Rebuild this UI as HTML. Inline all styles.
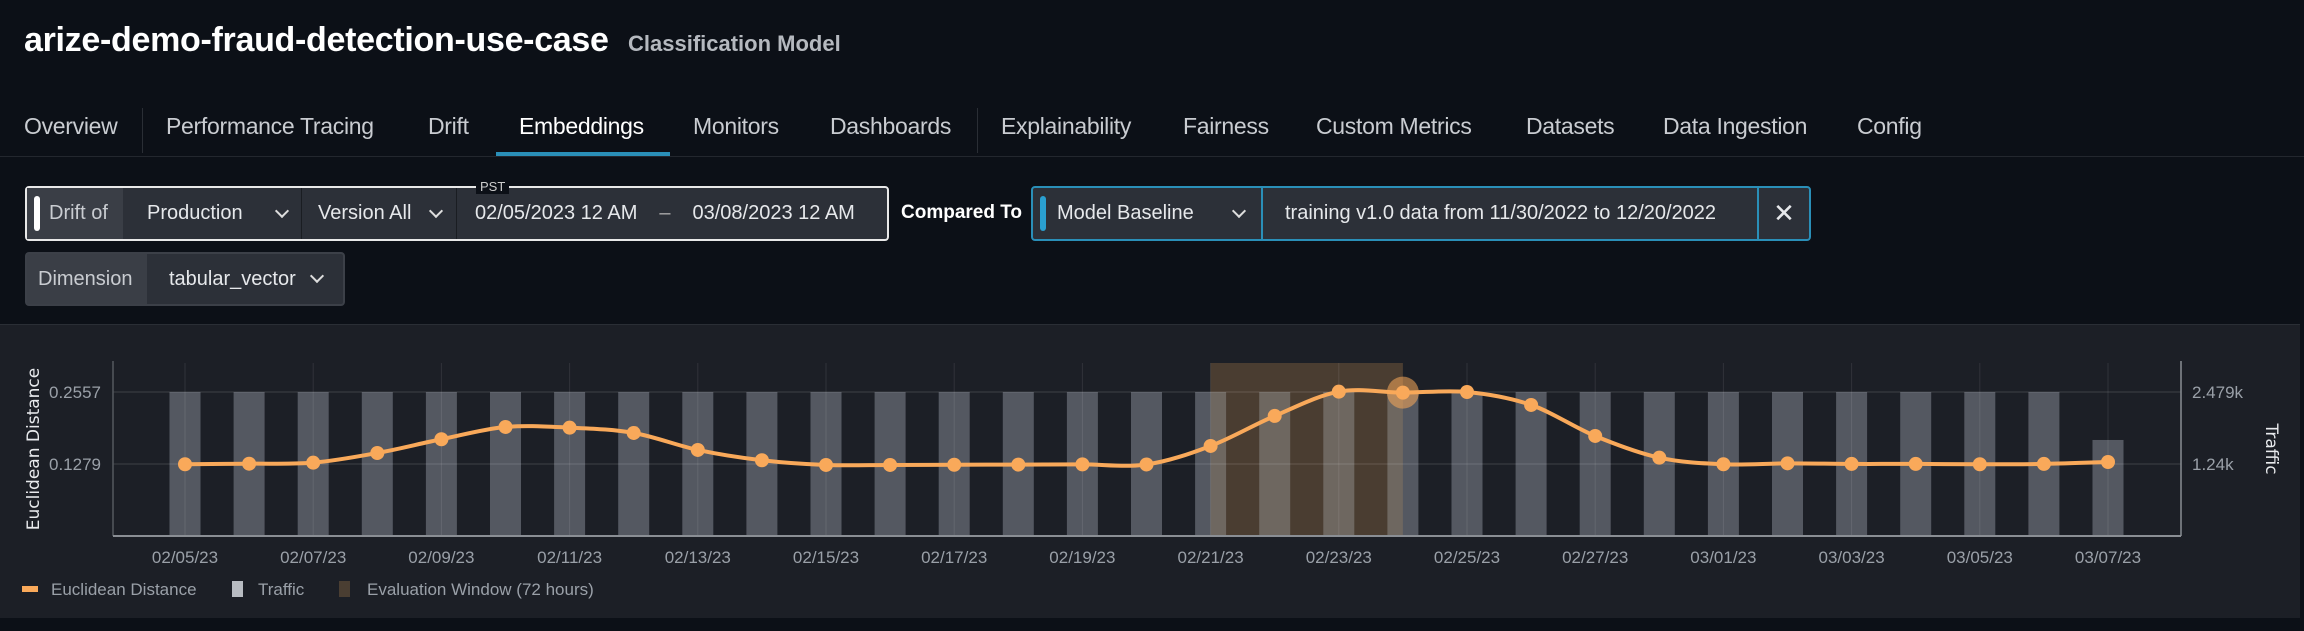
<!DOCTYPE html>
<html><head><meta charset="utf-8">
<style>
*{box-sizing:border-box;margin:0;padding:0}
body{width:2304px;height:631px;background:#0c1017;font-family:"Liberation Sans",sans-serif;color:#e8eaed;position:relative;overflow:hidden}
.a{position:absolute;white-space:nowrap}
.tab{position:absolute;top:113px;font-size:23px;color:#c9ccd1;letter-spacing:-0.3px}
.box{position:absolute;background:#2c3038;border-radius:4px}
.seg{position:absolute;top:0;height:100%;display:flex;align-items:center;font-size:20px;color:#e6e8eb}
.chev{display:inline-block;width:10px;height:10px;border-right:2px solid #ddd;border-bottom:2px solid #ddd;transform:rotate(45deg);margin-top:-6px}
</style></head><body>
<div class="a" style="left:24px;top:21px;font-size:34px;font-weight:bold;color:#fff;letter-spacing:-0.3px">arize-demo-fraud-detection-use-case</div>
<div class="a" style="left:628px;top:31px;font-size:22px;font-weight:bold;color:#b5b9bf">Classification Model</div>

<div class="tab" style="left:24px">Overview</div>
<div class="a" style="left:142px;top:108px;width:1px;height:45px;background:#2a2e35"></div>
<div class="tab" style="left:166px">Performance Tracing</div>
<div class="tab" style="left:428px">Drift</div>
<div class="tab" style="left:519px;color:#fff">Embeddings</div>
<div class="a" style="left:496px;top:152px;width:174px;height:4px;background:#2a8fb8"></div>
<div class="tab" style="left:693px">Monitors</div>
<div class="tab" style="left:830px">Dashboards</div>
<div class="a" style="left:977px;top:108px;width:1px;height:45px;background:#2a2e35"></div>
<div class="tab" style="left:1001px">Explainability</div>
<div class="tab" style="left:1183px">Fairness</div>
<div class="tab" style="left:1316px">Custom Metrics</div>
<div class="tab" style="left:1526px">Datasets</div>
<div class="tab" style="left:1663px">Data Ingestion</div>
<div class="tab" style="left:1857px">Config</div>
<div class="a" style="left:0;top:156px;width:2304px;height:1px;background:#23272e"></div>

<div class="box" style="left:25px;top:186px;width:864px;height:55px;border:2px solid #e8e8e8;background:#2c3038">
 <div class="seg" style="left:0;width:96px;background:#3a3e46;padding-left:22px;color:#c9ccd1">Drift of</div>
 <div class="a" style="left:7px;top:8px;width:6px;height:35px;background:#fff;border-radius:3px"></div>
 <div class="seg" style="left:96px;width:178px;padding-left:24px;gap:34px">Production<span class="chev"></span></div>
 <div class="a" style="left:274px;top:0;width:1px;height:51px;background:#1a1d22"></div>
 <div class="seg" style="left:275px;width:154px;padding-left:16px;gap:20px">Version All<span class="chev"></span></div>
 <div class="a" style="left:429px;top:0;width:1px;height:51px;background:#1a1d22"></div>
 <div class="seg" style="left:430px;width:430px;padding-left:18px;gap:22px">02/05/2023 12 AM<span style="color:#aaa">–</span>03/08/2023 12 AM</div>
 <div class="a" style="left:449px;top:-9px;font-size:13px;color:#ccc;background:#0c1017;padding:0 4px">PST</div>
</div>
<div class="a" style="left:901px;top:202px;font-size:19px;font-weight:bold;color:#fff">Compared To</div>
<div class="box" style="left:1031px;top:186px;width:780px;height:55px;border:2px solid #2a8fb8">
 <div class="a" style="left:7px;top:8px;width:6px;height:35px;background:#2a9fd0;border-radius:3px"></div>
 <div class="seg" style="left:0;width:228px;padding-left:24px;gap:40px">Model Baseline<span class="chev"></span></div>
 <div class="a" style="left:228px;top:0;width:2px;height:51px;background:#2a8fb8"></div>
 <div class="seg" style="left:230px;width:495px;padding-left:22px">training v1.0 data from 11/30/2022 to 12/20/2022</div>
 <div class="a" style="left:724px;top:0;width:2px;height:51px;background:#2a8fb8"></div>
 <div class="seg" style="left:726px;width:50px;justify-content:center;font-size:26px">✕</div>
</div>
<div class="box" style="left:25px;top:252px;width:320px;height:54px;border:2px solid #3c4048">
 <div class="seg" style="left:0;width:120px;background:#3a3e46;padding-left:11px;color:#c9ccd1">Dimension</div>
 <div class="seg" style="left:120px;width:196px;padding-left:22px;gap:16px">tabular_vector<span class="chev"></span></div>
</div>

<div class="a" style="left:0;top:324px;width:2300px;height:294px;background:#1c1f26;border-top:1px solid #2a2e35">
<svg id="chart" width="2300" height="294" style="position:absolute;left:0;top:0"></svg>
</div>

<script>
const dates=["02/05/23","02/06/23","02/07/23","02/08/23","02/09/23","02/10/23","02/11/23","02/12/23","02/13/23","02/14/23","02/15/23","02/16/23","02/17/23","02/18/23","02/19/23","02/20/23","02/21/23","02/22/23","02/23/23","02/24/23","02/25/23","02/26/23","02/27/23","02/28/23","03/01/23","03/02/23","03/03/23","03/04/23","03/05/23","03/06/23","03/07/23"];
const distance=[0.1274,0.1284,0.1302,0.1474,0.1718,0.1936,0.1924,0.1830,0.1528,0.1345,0.1261,0.1261,0.1265,0.1268,0.1272,0.1270,0.1599,0.2132,0.2563,0.2546,0.2557,0.2327,0.1776,0.1391,0.1274,0.1290,0.1280,0.1280,0.1274,0.1280,0.1314];
const traffic=[2479,2479,2479,2479,2479,2479,2479,2479,2479,2479,2479,2479,2479,2479,2479,2479,2479,2479,2479,2479,2479,2479,2479,2479,2479,2479,2479,2479,2479,2479,1653];
const leftTicks=[0.1279,0.2557];
const leftTickLabels=["0.1279","0.2557"];
const rightTicks=[1240,2479];
const rightTickLabels=["1.24k","2.479k"];
const evalWindow=[16,19];
const highlightIndex=19;

const NS="http://www.w3.org/2000/svg";
const svg=document.getElementById('chart');
const OY=324;
const L=113,R=2181,T=362-OY,B=535-OY;
const x0=185,dx=64.1;
const xs=i=>x0+i*dx;
const yL=v=>B-v/0.2557*(B-(391-OY));
const yR=v=>B-v/2479*(B-(391-OY));
function el(tag,attrs,name,inter){const e=document.createElementNS(NS,tag);for(const k in attrs)e.setAttribute(k,attrs[k]);


svg.appendChild(e);return e;}
const wx=xs(evalWindow[0]),ww=xs(evalWindow[1])-xs(evalWindow[0]);
el('rect',{x:wx,y:T,width:ww,height:B-T,fill:'#322a25'},'evaluation-window',false);
const bw=31;
traffic.forEach((v,i)=>{el('rect',{x:xs(i)-bw/2,y:yR(v),width:bw,height:B-yR(v),fill:'rgba(140,146,156,0.5)'},'traffic-bar',true);});
el('rect',{x:wx,y:T,width:ww,height:B-T,fill:'rgba(170,140,100,0.2)'},'evaluation-window-overlay',false);
dates.forEach((d,i)=>{if(i%2==0){el('line',{x1:xs(i),x2:xs(i),y1:T,y2:B,stroke:'rgba(255,255,255,0.09)','stroke-width':1},'x-gridline',false);
const t=el('text',{x:xs(i),y:556-OY+6,'text-anchor':'middle','font-size':17,fill:'#9aa0a8','font-family':'Liberation Sans'},'x-tick-label',false);t.textContent=d;}});
leftTicks.forEach((v,i)=>{el('line',{x1:L,x2:R,y1:yL(v),y2:yL(v),stroke:'rgba(255,255,255,0.1)','stroke-width':1.5},'y-gridline',false);
const t=el('text',{x:101,y:yL(v)+6,'text-anchor':'end','font-size':17,fill:'#9aa0a8','font-family':'Liberation Sans'},'left-tick-label',false);t.textContent=leftTickLabels[i];});
rightTicks.forEach((v,i)=>{const t=el('text',{x:2192,y:yR(v)+6,'font-size':17,fill:'#9aa0a8','font-family':'Liberation Sans'},'right-tick-label',false);t.textContent=rightTickLabels[i];});
el('line',{x1:L,x2:L,y1:T-2,y2:B,stroke:'#55595f','stroke-width':1.5},'left-axis',false);
el('line',{x1:R,x2:R,y1:T-2,y2:B,stroke:'#8a8e94','stroke-width':1.5},'right-axis',false);
el('line',{x1:L,x2:R,y1:B,y2:B,stroke:'#8a8e94','stroke-width':2},'x-axis',false);
const pts=distance.map((v,i)=>[xs(i),yL(v)]);
let d='M'+pts[0][0]+','+pts[0][1];
for(let i=0;i<pts.length-1;i++){const p0=pts[Math.max(i-1,0)],p1=pts[i],p2=pts[i+1],p3=pts[Math.min(i+2,pts.length-1)];
d+=' C'+(p1[0]+(p2[0]-p0[0])/6)+','+(p1[1]+(p2[1]-p0[1])/6)+' '+(p2[0]-(p3[0]-p1[0])/6)+','+(p2[1]-(p3[1]-p1[1])/6)+' '+p2[0]+','+p2[1];}
el('path',{d:d,fill:'none',stroke:'#f9a95a','stroke-width':4},'euclidean-distance-line',false);
el('circle',{cx:pts[highlightIndex][0],cy:pts[highlightIndex][1],r:16,fill:'rgba(249,169,90,0.55)'},'highlighted-point-halo',false);
pts.forEach(p=>{el('circle',{cx:p[0],cy:p[1],r:7,fill:'#f9a95a'},'distance-point',true);});
const t1=el('text',{x:0,y:0,transform:'translate(39,'+(448-OY)+') rotate(-90)','text-anchor':'middle','font-size':17,fill:'#e8eaed','font-family':'DejaVu Sans'},'y-axis-title',false);t1.textContent='Euclidean Distance';
const t2=el('text',{x:0,y:0,transform:'translate(2266,'+(448-OY)+') rotate(90)','text-anchor':'middle','font-size':17,fill:'#e8eaed','font-family':'DejaVu Sans'},'right-axis-title',false);t2.textContent='Traffic';
const ly=588-OY;
el('rect',{x:22,y:ly-3,width:16,height:6,fill:'#f9a95a'},'legend-swatch-distance',false);
let lt=el('text',{x:51,y:ly+6,'font-size':17,fill:'#9aa0a8','font-family':'Liberation Sans'},'legend-entry-distance',true);lt.textContent='Euclidean Distance';
el('rect',{x:232,y:ly-8,width:11,height:16,fill:'#b8bcc2'},'legend-swatch-traffic',false);
lt=el('text',{x:258,y:ly+6,'font-size':17,fill:'#9aa0a8','font-family':'Liberation Sans'},'legend-entry-traffic',true);lt.textContent='Traffic';
el('rect',{x:339,y:ly-8,width:11,height:16,fill:'#4a3e32'},'legend-swatch-eval-window',false);
lt=el('text',{x:367,y:ly+6,'font-size':17,fill:'#9aa0a8','font-family':'Liberation Sans'},'legend-entry-eval-window',true);lt.textContent='Evaluation Window (72 hours)';
</script>
</body></html>
